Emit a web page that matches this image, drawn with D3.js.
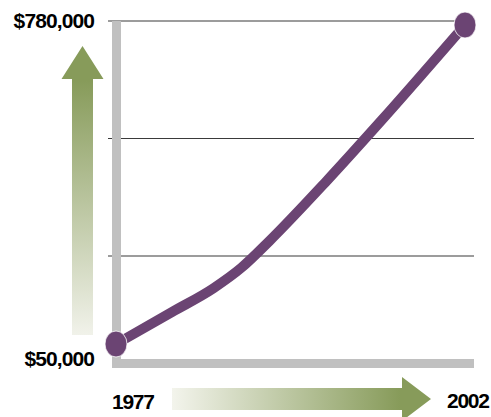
<html>
<head>
    <meta charset="UTF-8">
    <title>Growth 1977-2002</title>
    <script src="https://d3js.org/d3.v7.min.js"></script>
    <style>
        body { margin: 0; background: #fff; }
        .line { fill: none; stroke: #6b4473; stroke-width: 10px; stroke-linejoin: round; }
        .grid { stroke: #3a3a3a; stroke-width: 1.2px; }
        .frame { fill: #c0c0c0; }
        .lbl { font-family: "Liberation Sans", Arial, sans-serif; font-weight: bold; font-size: 21px; fill: #000; }
    </style>
</head>
<body>
    <svg width="491" height="417"></svg>
    <script>
        // values
        var years = [1977, 1981, 1984, 1986, 1988, 1992, 1996, 2002];
        var values = [50000, 123000, 178000, 225000, 286000, 420000, 561000, 780000];
        var xLabels = ['1977', '2002'];
        var yLabels = ['$50,000', '$780,000'];
        var gridLevels = [1, 2, 3];

        var svg = d3.select('svg');

        var x = d3.scaleLinear().domain([years[0], years[years.length - 1]]).range([116, 465]),
            y = d3.scaleLinear().domain([values[0], values[values.length - 1]]).range([344, 25]),
            grid = d3.scaleLinear().domain([0, 3]).range([373.5, 21]);

        var frameLeft = 112, frameRight = 474, frameBottom = 368, barW = 9;

        var defs = svg.append('defs');
        var gv = defs.append('linearGradient').attr('id', 'gv')
            .attr('x1', 0).attr('y1', 1).attr('x2', 0).attr('y2', 0);
        gv.append('stop').attr('offset', '0%').attr('stop-color', '#f1f2ea');
        gv.append('stop').attr('offset', '88%').attr('stop-color', '#879b5a');
        var gh = defs.append('linearGradient').attr('id', 'gh')
            .attr('x1', 0).attr('y1', 0).attr('x2', 1).attr('y2', 0);
        gh.append('stop').attr('offset', '0%').attr('stop-color', '#f3f4ec');
        gh.append('stop').attr('offset', '88%').attr('stop-color', '#879b5a');

        // vertical arrow
        var va = { cx: 82.5, top: 46, headBase: 79, bottom: 335, shaft: 10.5, head: 21 };
        svg.append('path')
            .attr('fill', 'url(#gv)')
            .attr('d', 'M' + va.cx + ',' + va.top +
                'L' + (va.cx + va.head) + ',' + va.headBase +
                'L' + (va.cx + va.shaft) + ',' + va.headBase +
                'L' + (va.cx + va.shaft) + ',' + va.bottom +
                'L' + (va.cx - va.shaft) + ',' + va.bottom +
                'L' + (va.cx - va.shaft) + ',' + va.headBase +
                'L' + (va.cx - va.head) + ',' + va.headBase + 'Z');

        // horizontal arrow
        var ha = { cy: 399, left: 172, headBase: 402, tip: 431, shaft: 11, head: 22 };
        svg.append('path')
            .attr('fill', 'url(#gh)')
            .attr('d', 'M' + ha.tip + ',' + ha.cy +
                'L' + ha.headBase + ',' + (ha.cy + ha.head) +
                'L' + ha.headBase + ',' + (ha.cy + ha.shaft) +
                'L' + ha.left + ',' + (ha.cy + ha.shaft) +
                'L' + ha.left + ',' + (ha.cy - ha.shaft) +
                'L' + ha.headBase + ',' + (ha.cy - ha.shaft) +
                'L' + ha.headBase + ',' + (ha.cy - ha.head) + 'Z');

        svg.selectAll('.grid').data(gridLevels).enter().append('line')
            .attr('class', 'grid')
            .attr('x1', 108).attr('x2', frameRight)
            .attr('y1', d => grid(d)).attr('y2', d => grid(d));

        svg.append('rect').attr('class', 'frame')
            .attr('x', frameLeft).attr('y', grid(3))
            .attr('width', barW).attr('height', frameBottom - grid(3));
        svg.append('rect').attr('class', 'frame')
            .attr('x', frameLeft).attr('y', frameBottom - barW)
            .attr('width', frameRight - frameLeft).attr('height', barW);

        var pts = years.map((yr, i) => ({ year: yr, value: values[i] }));
        var line = d3.line().curve(d3.curveMonotoneX)
            .x(d => x(d.year)).y(d => y(d.value));
        svg.append('path').attr('class', 'line').attr('d', line(pts));

        svg.selectAll('.dot').data([pts[0], pts[pts.length - 1]]).enter().append('ellipse')
            .attr('class', 'dot')
            .attr('cx', d => x(d.year)).attr('cy', d => y(d.value))
            .attr('rx', 11).attr('ry', 13)
            .attr('fill', '#6b4473').attr('stroke', '#fff').attr('stroke-width', 0.8);

        // axis labels
        svg.append('text').attr('class', 'lbl').attr('text-anchor', 'end')
            .attr('x', 94).attr('y', 28).attr('letter-spacing', -0.9).text(yLabels[1]);
        svg.append('text').attr('class', 'lbl').attr('text-anchor', 'end')
            .attr('x', 94).attr('y', 366).attr('letter-spacing', -0.9).text(yLabels[0]);
        svg.append('text').attr('class', 'lbl')
            .attr('x', 112).attr('y', 409).attr('letter-spacing', -1.3).text(xLabels[0]);
        svg.append('text').attr('class', 'lbl')
            .attr('x', 447).attr('y', 408).attr('letter-spacing', -1.3).text(xLabels[1]);
    </script>
</body>
</html>
